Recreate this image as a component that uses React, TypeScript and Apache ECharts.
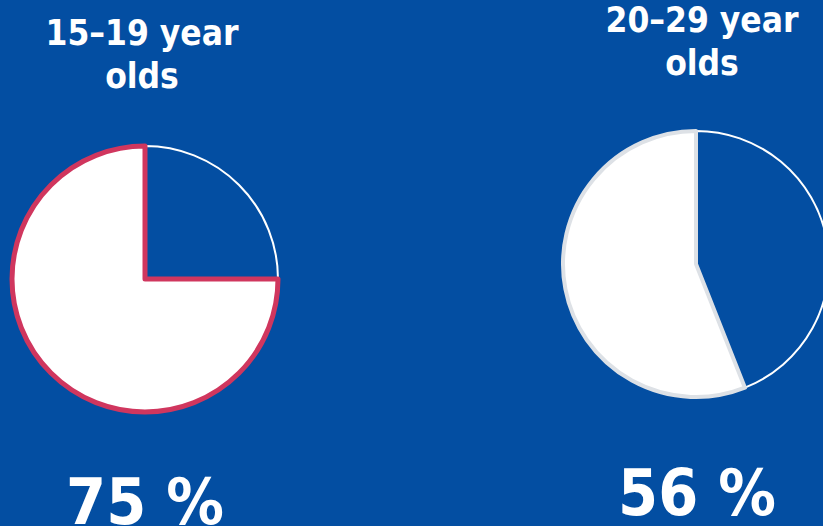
import React, { useEffect, useRef } from "react";
import * as echarts from "echarts";

const groups = ["15–19 year\nolds", "20–29 year\nolds"];
const shares = [75, 56];
const sliceNames = ["Other", "Share"];

const BG = "#034EA2";
const FONT = "'DejaVu Sans Condensed', 'DejaVu Sans', sans-serif";

export default function App() {
  const ref = useRef<HTMLDivElement>(null);
  useEffect(() => {
    document.body.style.margin = "0";
    const chart = echarts.init(ref.current!, null, { renderer: "svg" });
    const centers: [number, number][] = [
      [145, 279],
      [696, 264],
    ];
    const borders = ["#D0365E", "#DDE1E6"];
    const borderWidths = [5, 4];
    const titlePos = [
      [142, 50],
      [702, 37],
    ];
    const numPos = [
      [145, 534],
      [697, 525],
    ];
    const series = shares.map((s, i) => ({
      type: "pie",
      center: centers[i],
      radius: 133,
      startAngle: 90,
      clockwise: true,
      label: { show: false },
      labelLine: { show: false },
      silent: true,
      data: [
        {
          name: sliceNames[0],
          value: 100 - s,
          itemStyle: { color: BG, borderColor: "#FFFFFF", borderWidth: 2 },
        },
        {
          name: sliceNames[1],
          value: s,
          itemStyle: { color: "#FFFFFF", borderColor: borders[i], borderWidth: borderWidths[i] },
        },
      ],
    }));
    const graphic: any[] = [];
    groups.forEach((g, i) => {
      g.split("\n").forEach((line, j) => {
        graphic.push({
          type: "text",
          x: titlePos[i][0],
          y: titlePos[i][1] + j * 43,
          style: {
            text: line,
            fill: "#FFFFFF",
            font: `bold 35px ${FONT}`,
            textAlign: "center",
            textVerticalAlign: "bottom",
          },
        });
      });
      graphic.push({
        type: "text",
        x: numPos[i][0],
        y: numPos[i][1],
        style: {
          text: `${shares[i]} %`,
          fill: "#FFFFFF",
          font: `bold 64px ${FONT}`,
          textAlign: "center",
          textVerticalAlign: "bottom",
        },
      });
    });
    chart.setOption({
      animation: false,
      backgroundColor: BG,
      series,
      graphic,
    });
    return () => chart.dispose();
  }, []);
  return <div ref={ref} style={{ position: "fixed", left: 0, top: 0, width: 823, height: 526 }} />;
}
